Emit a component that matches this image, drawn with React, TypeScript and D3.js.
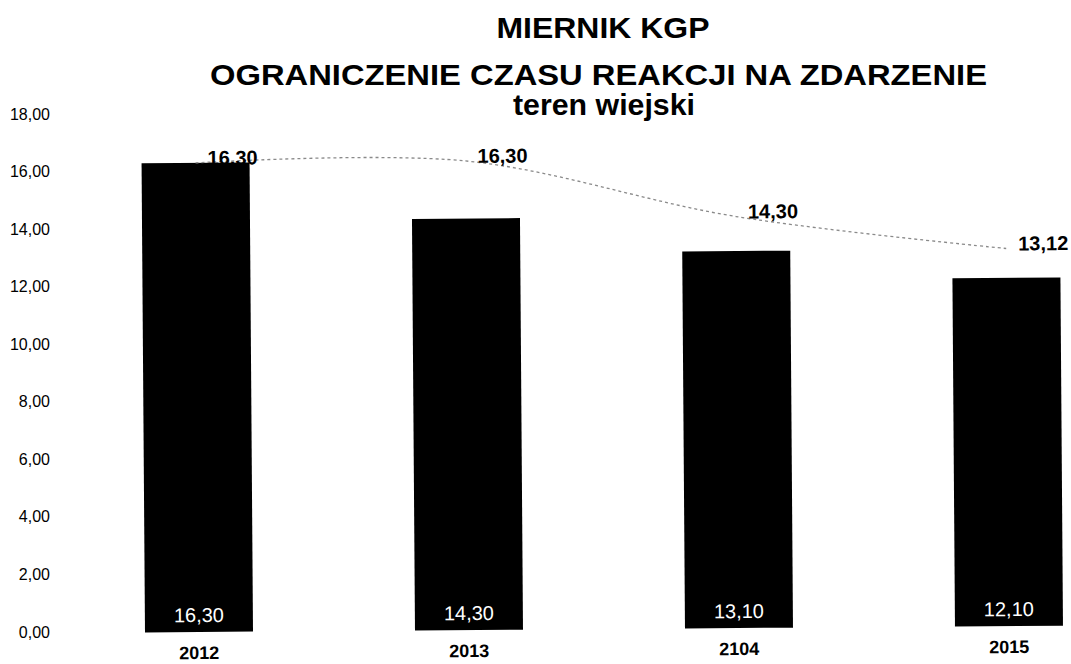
import React from "react";
import * as d3 from "d3";

const categories = ["2012", "2013", "2104", "2015"];
const barValues = [16.3, 14.3, 13.1, 12.1];
const lineValues = [16.3, 16.3, 14.3, 13.12];
const yTicks = [0, 2, 4, 6, 8, 10, 12, 14, 16, 18];
const titleLines = ["MIERNIK KGP", "OGRANICZENIE CZASU REAKCJI NA ZDARZENIE", "teren wiejski"];

const W = 1071;
const H = 664;
const FONT = "Arial, 'Liberation Sans', sans-serif";

const plFormat = d3.formatLocale({ decimal: ",", thousands: " ", grouping: [3], currency: ["", " zł"] }).format(".2f");

export default function App() {
  const x = d3.scaleBand<string>().domain(categories).range([64, 1144]).paddingInner(0.6).paddingOuter(0.3);
  const y = d3.scaleLinear().domain([0, 18]).range([632, 114]);
  const bw = x.bandwidth();
  const cx = (c: string) => (x(c) as number) + bw / 2;

  const linePts: [number, number][] = categories.map((c, i) => [cx(c), y(lineValues[i])]);
  const linePath = d3.line().curve(d3.curveCatmullRom.alpha(0.5))(linePts) || "";

  const x0 = cx(categories[0]);
  const y0 = y(0);

  return (
    <svg width={W} height={H} style={{ position: "absolute", left: 0, top: 0, background: "#fff" }} fontFamily={FONT}>
      <rect x={0} y={0} width={W} height={H} fill="#fff" />
      {/* Title */}
      <g fontWeight="bold" fill="#000" textAnchor="middle">
        <text x={603} y={38} fontSize={30} textLength={213} lengthAdjust="spacingAndGlyphs">{titleLines[0]}</text>
        <text x={598.5} y={85} fontSize={30} textLength={777} lengthAdjust="spacingAndGlyphs">{titleLines[1]}</text>
        <text x={604} y={115} fontSize={30} textLength={182} lengthAdjust="spacingAndGlyphs">{titleLines[2]}</text>
      </g>
      {/* Y axis labels */}
      <g fontSize={16} fill="#000" textAnchor="end">
        {yTicks.map((t) => (
          <text key={t} x={50} y={y(t)} dy="0.35em">{plFormat(t)}</text>
        ))}
      </g>
      <g transform={`rotate(-0.42, ${x0}, ${y0})`}>
        {/* Bars */}
        {categories.map((c, i) => (
          <rect key={c} x={x(c)} y={y(barValues[i])} width={bw} height={y(0) - y(barValues[i])} fill="#000" />
        ))}
        {/* Bar labels */}
        <g fontSize={20} fill="#fff" textAnchor="middle">
          {categories.map((c, i) => (
            <text key={c} x={cx(c)} y={y(0) - 17} dy="0.35em">{plFormat(barValues[i])}</text>
          ))}
        </g>
        {/* Category labels */}
        <g fontSize={18} fontWeight="bold" fill="#000" textAnchor="middle">
          {categories.map((c) => (
            <text key={c} x={cx(c)} y={y(0) + 27}>{c}</text>
          ))}
        </g>
        {/* Line */}
        <path d={linePath} fill="none" stroke="#8a8a8a" strokeWidth={1.3} strokeDasharray="3,3" />
        {/* Line labels */}
        <g fontSize={20} fontWeight="bold" fill="#000" textAnchor="start">
          {categories.map((c, i) => (
            <text key={c} x={cx(c) + 12} y={y(lineValues[i]) - 5} dy="0.35em">{plFormat(lineValues[i])}</text>
          ))}
        </g>
      </g>
    </svg>
  );
}
